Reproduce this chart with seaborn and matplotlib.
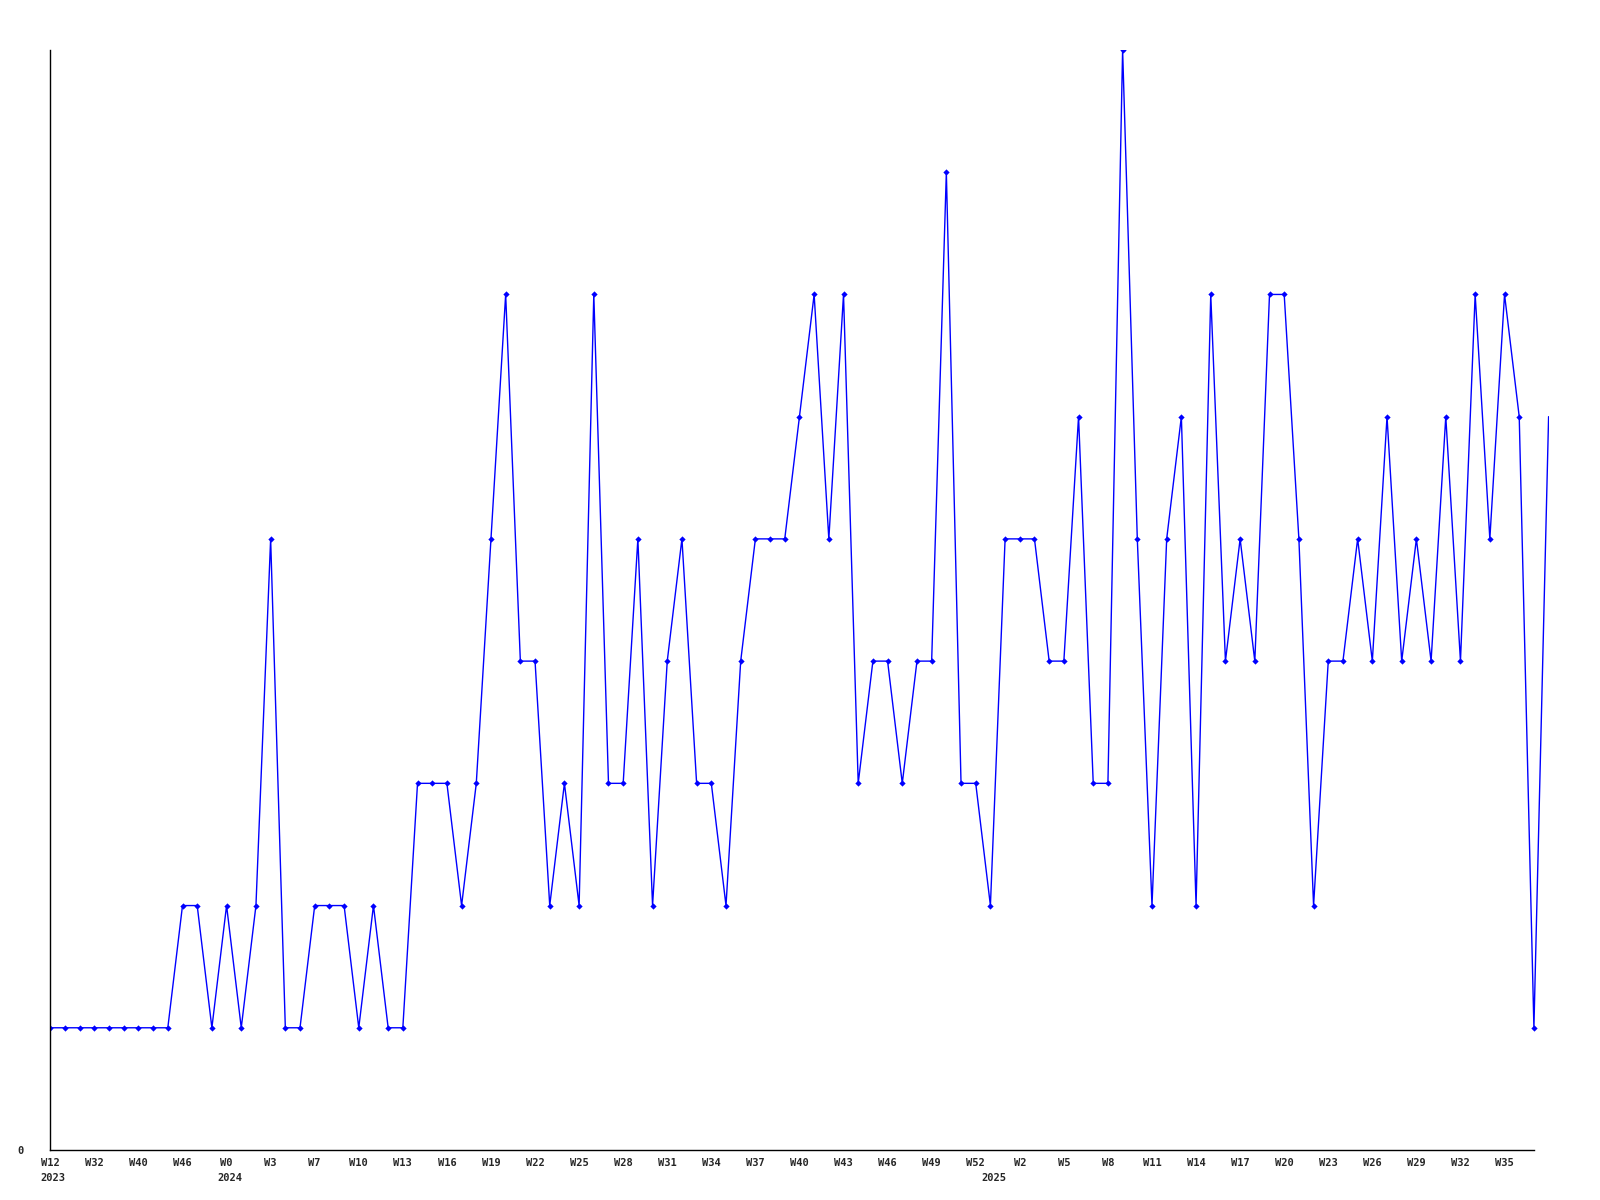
import pandas as pd
import seaborn as sns
import matplotlib.pyplot as plt

# weekly counts, one per point
counts = [1, 1, 1, 1, 1, 1, 1, 1, 1, 2,
          2, 1, 2, 1, 2, 5, 1, 1, 2, 2,
          2, 1, 2, 1, 1, 3, 3, 3, 2, 3,
          5, 7, 4, 4, 2, 3, 2, 7, 3, 3,
          5, 2, 4, 5, 3, 3, 2, 4, 5, 5,
          5, 6, 7, 5, 7, 3, 4, 4, 3, 4,
          4, 8, 3, 3, 2, 5, 5, 5, 4, 4,
          6, 3, 3, 9, 5, 2, 5, 6, 2, 7,
          4, 5, 4, 7, 7, 5, 2, 4, 4, 5,
          4, 6, 4, 5, 4, 6, 4, 7, 5, 7,
          6, 1, 6]

week_labels = ["W12", "W32", "W40", "W46", "W0", "W3", "W7", "W10", "W13", "W16",
               "W19", "W22", "W25", "W28", "W31", "W34", "W37", "W40", "W43", "W46",
               "W49", "W52", "W2", "W5", "W8", "W11", "W14", "W17", "W20", "W23",
               "W26", "W29", "W32", "W35"]
label_step = 3

years = ["2023", "2024", "2025"]
year_points = [0, 12, 64]

df = pd.DataFrame({"point": range(len(counts)), "count": counts})

sns.set_style("white")
plt.rcParams["font.family"] = ["DejaVu Sans Mono"]

fig = plt.figure(figsize=(16, 12), dpi=100)
ax = fig.add_axes([50.3 / 1600, 50 / 1200, (1548.6 - 50.3) / 1600, 1100 / 1200])

last = len(counts) - 1
sns.lineplot(data=df, x="point", y="count", color="#0000ff", linewidth=1,
             marker="D", markersize=3.2, markeredgewidth=0,
             markevery=list(range(last)), ax=ax)

ax.set_xlim(0, last)
ax.set_ylim(0, max(counts))

for side in ["top", "right"]:
    ax.spines[side].set_visible(False)
ax.spines["left"].set_color("black")
ax.spines["bottom"].set_color("black")
ax.spines["left"].set_linewidth(1)
ax.spines["bottom"].set_linewidth(1)
ax.spines["bottom"].set_bounds(0, last - 1)

ax.set_xticks(range(0, len(week_labels) * label_step, label_step))
ax.set_xticklabels(week_labels, fontsize=7.5, fontweight="bold")
ax.set_yticks([0])
ax.set_yticklabels(["0"], fontsize=7.5, fontweight="bold")
ax.tick_params(axis="x", length=0, pad=5.5)
ax.tick_params(axis="y", length=0, pad=19)
ax.set_xlabel("")
ax.set_ylabel("")

for year, p in zip(years, year_points):
    ax.annotate(year, xy=(p, 0), xycoords=("data", "axes fraction"),
                xytext=(-9.5, -23), textcoords="offset pixels",
                ha="left", va="top", fontsize=7.5, fontweight="bold")

plt.savefig("out.png", dpi=100)
